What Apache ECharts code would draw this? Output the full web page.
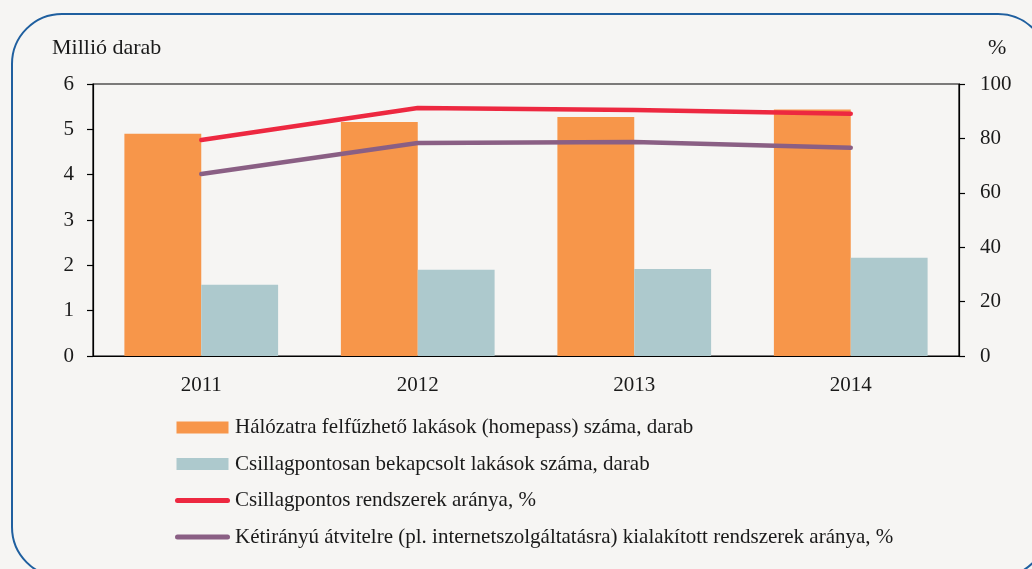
<!DOCTYPE html>
<html>
<head>
<meta charset="utf-8">
<script src="https://cdn.jsdelivr.net/npm/echarts@6/dist/echarts.min.js"></script>
<style>
html,body{margin:0;padding:0;background:#f6f5f3;}
#c{width:1032px;height:569px;}
</style>
</head>
<body>
<div id="c"></div>
<script>
const categories = ['2011', '2012', '2013', '2014'];
const homepass = [4.90, 5.16, 5.27, 5.44];
const starConnected = [1.57, 1.90, 1.92, 2.17];
const starShare = [79.4, 91.2, 90.4, 89.1];
const twoWayShare = [66.9, 78.3, 78.7, 76.6];
const leftTicks = [0, 1, 2, 3, 4, 5, 6];
const rightTicks = [0, 20, 40, 60, 80, 100];
const seriesNames = [
  'Hálózatra felfűzhető lakások (homepass) száma, darab',
  'Csillagpontosan bekapcsolt lakások száma, darab',
  'Csillagpontos rendszerek aránya, %',
  'Kétirányú átvitelre (pl. internetszolgáltatásra) kialakított rendszerek aránya, %'
];

const FONT = '"Liberation Serif", "DejaVu Serif", serif';
const TXT = '#1a1a1a';
const LINE_ICON = 'path://M2.5,0 L52.5,0 A2.5,2.5 0 0 1 52.5,5 L2.5,5 A2.5,2.5 0 0 1 2.5,0 Z';
const RECT_ICON = 'path://M1.5,0 L53.5,0 L53.5,12 L1.5,12 Z';
const chart = echarts.init(document.getElementById('c'), null, {renderer: 'canvas'});
chart.setOption({
  backgroundColor: '#f6f5f3',
  textStyle: {fontFamily: FONT, color: TXT},
  graphic: [
    {type: 'rect', shape: {x: 12, y: 14, width: 1036, height: 563, r: 50},
     style: {fill: null, stroke: '#1f5f9f', lineWidth: 2}, silent: true, z: 100},
    {type: 'text', left: 52, top: 37,
     style: {text: 'Millió darab', font: '22px ' + FONT, fill: TXT}},
    {type: 'text', left: 988, top: 37,
     style: {text: '%', font: '22px ' + FONT, fill: TXT}}
  ],
  grid: {left: 93, right: 73, top: 84, bottom: 213, show: true, borderColor: '#000', borderWidth: 1.2, backgroundColor: 'transparent'},
  legend: {
    orient: 'vertical', left: 170, top: 412, itemGap: 15.5, itemWidth: 55, itemHeight: 12,
    textStyle: {fontFamily: FONT, fontSize: 21, color: TXT},
    data: [
      {name: seriesNames[0], icon: RECT_ICON},
      {name: seriesNames[1], icon: RECT_ICON},
      {name: seriesNames[2], icon: LINE_ICON},
      {name: seriesNames[3], icon: LINE_ICON}
    ]
  },
  xAxis: {
    type: 'category', data: categories,
    axisLine: {lineStyle: {color: '#000', width: 1.2}},
    axisTick: {show: false},
    axisLabel: {fontFamily: FONT, fontSize: 21, color: TXT, margin: 19}
  },
  yAxis: [
    {type: 'value', min: leftTicks[0], max: leftTicks[leftTicks.length - 1], interval: 1,
     axisLine: {show: true, lineStyle: {color: '#000', width: 1.2}},
     axisTick: {show: true, length: 6, lineStyle: {color: '#000', width: 1.2}},
     splitLine: {show: false},
     axisLabel: {fontFamily: FONT, fontSize: 21, color: TXT, margin: 19}},
    {type: 'value', min: rightTicks[0], max: rightTicks[rightTicks.length - 1], interval: 20, position: 'right',
     axisLine: {show: true, lineStyle: {color: '#000', width: 1.2}},
     axisTick: {show: true, length: 6, lineStyle: {color: '#000', width: 1.2}},
     splitLine: {show: false},
     axisLabel: {fontFamily: FONT, fontSize: 21, color: TXT, margin: 21}}
  ],
  series: [
    {name: seriesNames[0], type: 'bar', data: homepass, yAxisIndex: 0,
     barGap: '0%', barCategoryGap: '29%', itemStyle: {color: '#f7964a'}},
    {name: seriesNames[1], type: 'bar', data: starConnected, yAxisIndex: 0,
     itemStyle: {color: '#adc9cd'}},
    {name: seriesNames[2], type: 'line', data: starShare, yAxisIndex: 1,
     symbol: 'none', itemStyle: {color: '#ed2840'},
     lineStyle: {color: '#ed2840', width: 4.5, cap: 'round'}},
    {name: seriesNames[3], type: 'line', data: twoWayShare, yAxisIndex: 1,
     symbol: 'none', itemStyle: {color: '#8a5f84'},
     lineStyle: {color: '#8a5f84', width: 4.5, cap: 'round'}}
  ]
});
</script>
</body>
</html>
